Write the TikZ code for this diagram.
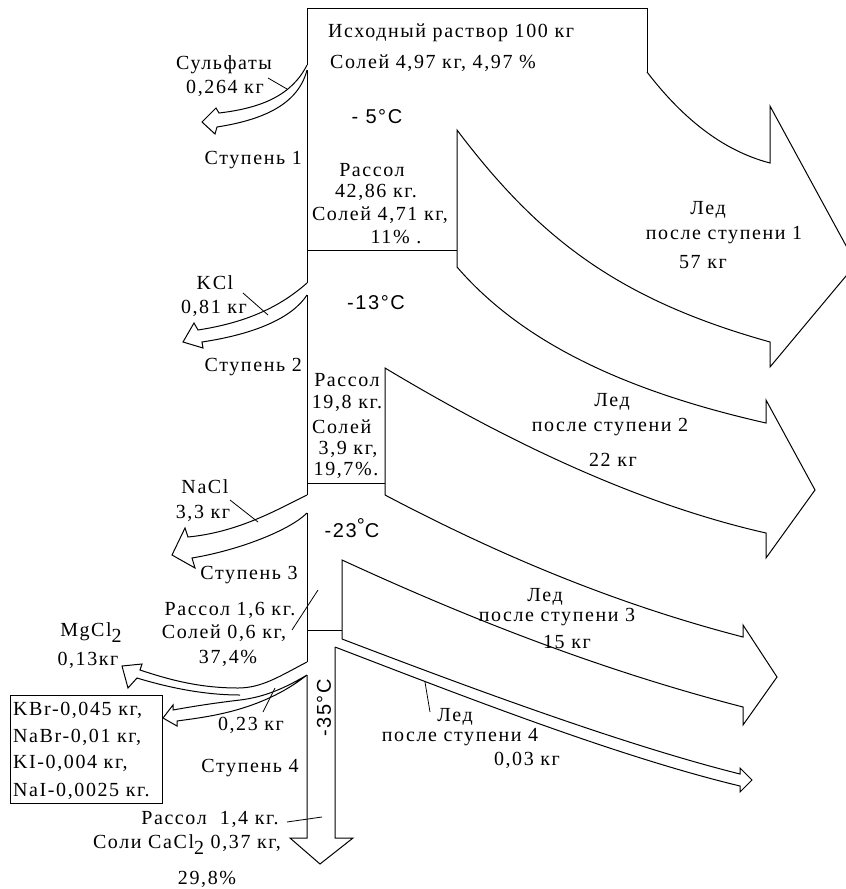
\documentclass[tikz,border=0pt]{standalone}
\usepackage{fontspec}
\setmainfont{Liberation Serif}[LetterSpace=8]
\newfontfamily\sansf{Liberation Sans}[LetterSpace=8]
\begin{document}
\begin{tikzpicture}[x=1pt,y=-1pt,
  ln/.style={line width=1pt, line join=miter},
  lead/.style={line width=0.8pt},
  lbl/.style={inner sep=0pt, font=\fontsize{20}{22}\selectfont},
  tmp/.style={inner sep=0pt, font=\sansf\fontsize{20}{22}\selectfont}]
\useasboundingbox (0,0) rectangle (846,889);
\clip (0,0) rectangle (846,889);

% ---- main column and top block
\draw[ln] (307,65) -- (307,8) -- (647,8) -- (647,72);
\draw[ln] (307,70) -- (307,283);
\draw[ln] (307,295) -- (307,495);
\draw[ln] (307,513) -- (307,662);
\draw[ln] (307,675) -- (307,838) -- (290,838) -- (320,864) -- (353,838) -- (335,838) -- (335,647);

% ---- ice arrow 1
\draw[ln] (647,72) .. controls (680,115) and (720,150) .. (770,163) -- (770,106) -- (856,264) -- (770,367) -- (770,342)
  .. controls (620,300) and (540,240) .. (457,130) -- (457,267);
\draw[ln] (307,250) -- (457,250);
% ---- ice arrow 2
\draw[ln] (457,267) .. controls (520,340) and (620,390) .. (766,423) -- (766,400) -- (815,490) -- (766,558) -- (766,533)
  .. controls (620,500) and (480,425) .. (385,368) -- (385,495);
\draw[ln] (307,483) -- (385,483);
% ---- ice arrow 3
\draw[ln] (385,495) .. controls (480,545) and (600,600) .. (743,637) -- (743,625) -- (777,677) -- (743,725) -- (743,707)
  .. controls (580,665) and (440,605) .. (342,560) -- (342,639);
\draw[ln] (307,630) -- (342,630);
% ---- ice arrow 4 (thin)
\draw[ln] (342,639) .. controls (460,684) and (620,744) .. (740,774) -- (740,768) -- (752,780) -- (740,792) -- (740,786)
  .. controls (615,756) and (455,693) .. (335,647);

% ---- salt arrows (left)
\draw[ln] (307,65) .. controls (292,95) and (262,108) .. (219,113) -- (216,108) -- (202,122) -- (215,134) -- (217,127)
  .. controls (262,120) and (298,105) .. (307,70);
\draw[ln] (307,283) .. controls (282,305) and (250,322) .. (198,330) -- (194,323) -- (183,342) -- (203,348) -- (202,342)
  .. controls (255,334) and (292,318) .. (307,295);
\draw[ln] (307,495) .. controls (280,508) and (240,532) .. (188,537) -- (185,528) -- (172,555) -- (195,568) -- (192,558)
  .. controls (240,550) and (290,530) .. (307,513);
% MgCl2
\draw[ln] (307,662) .. controls (280,676) and (262,688) .. (238,688) .. controls (200,688) and (170,680) .. (140,670)
  -- (142,664) -- (122,666) -- (128,688) -- (137,678) .. controls (170,688) and (205,695) .. (240,695);
% 0,23
\draw[ln] (307,675) .. controls (285,688) and (265,697) .. (240,700) .. controls (215,703) and (195,706) .. (173,710)
  -- (173,705) -- (163,718) -- (177,726) -- (177,721) .. controls (205,717) and (260,712) .. (307,675);

% ---- leader lines
\coordinate (l1a) at (268,78); \coordinate (l1b) at (287,89);
\coordinate (l2a) at (243,293); \coordinate (l2b) at (268,315);
\coordinate (l3a) at (230,500); \coordinate (l3b) at (258,522);
\coordinate (l4a) at (292,630); \coordinate (l4b) at (318,590);
\coordinate (l5a) at (263,712); \coordinate (l5b) at (275,688);
\coordinate (l6a) at (287,822); \coordinate (l6b) at (322,817);
\coordinate (l7a) at (430,712); \coordinate (l7b) at (425,682);
\draw[lead] (l1a) -- (l1b);
\draw[lead] (l2a) -- (l2b);
\draw[lead] (l3a) -- (l3b);
\draw[lead] (l4a) -- (l4b);
\draw[lead] (l5a) -- (l5b);
\draw[lead] (l6a) -- (l6b);
\draw[lead] (l7a) -- (l7b);

% ---- texts
\node[lbl, anchor=west] (src1) at (328,33) {Исходный раствор 100 кг};
\node[lbl, anchor=west] (src2) at (330,63) {Солей 4,97 кг, 4,97 \%};
\node[tmp] (t5) at (377,117) {- 5°C};
\node[lbl] (sulf1) at (224,65) {Сульфаты};
\node[lbl] (sulf2) at (225,88) {0,264 кг};
\node[lbl, anchor=east] (st1) at (302,160) {Ступень 1};
\node[lbl] (b1a) at (372,170) {Рассол};
\node[lbl] (b1b) at (376,192) {42,86 кг.};
\node[lbl] (b1c) at (380,215) {Солей 4,71 кг,};
\node[lbl] (b1d) at (396,237) {11\% .};
\node[lbl] (i1a) at (708,210) {Лед};
\node[lbl] (i1b) at (724,235) {после ступени 1};
\node[lbl] (i1c) at (703,262) {57 кг};

\node[lbl] (kcl1) at (215,283) {KCl};
\node[lbl] (kcl2) at (214,308) {0,81 кг};
\node[tmp] (t13) at (376,303) {-13°C};
\node[lbl, anchor=east] (st2) at (302,367) {Ступень 2};
\node[lbl] (b2a) at (347,380) {Рассол};
\node[lbl] (b2b) at (347,403) {19,8 кг.};
\node[lbl, anchor=west] (b2c) at (312,427) {Солей};
\node[lbl] (b2d) at (348,449) {3,9 кг,};
\node[lbl] (b2e) at (346,470) {19,7\%.};
\node[lbl] (i2a) at (612,402) {Лед};
\node[lbl] (i2b) at (610,427) {после ступени 2};
\node[lbl] (i2c) at (613,460) {22 кг};

\node[lbl] (nacl1) at (205,487) {NaCl};
\node[lbl] (nacl2) at (203,513) {3,3 кг};
\node[tmp] (t23) at (352,528) {-23\raisebox{0.25em}{°}C};
\node[lbl] (st3) at (249,575) {Ступень 3};
\node[lbl] (b3a) at (230,610) {Рассол 1,6 кг.};
\node[lbl] (b3b) at (224,633) {Солей 0,6 кг,};
\node[lbl] (b3c) at (228,658) {37,4\%};
\node[lbl] (mg1) at (91,633) {MgCl\raisebox{-0.3em}{2}};
\node[lbl] (mg2) at (88,660) {0,13кг};
\node[lbl] (i3a) at (545,597) {Лед};
\node[lbl] (i3b) at (557,617) {после ступени 3};
\node[lbl] (i3c) at (567,642) {15 кг};

\node[tmp, rotate=90] (t35) at (324,708) {-35°C};
\node[draw, line width=1pt, inner sep=0pt, minimum width=152pt, minimum height=108pt, anchor=north west] (box) at (10,695) {};
\node[lbl, anchor=west] (bx1) at (13,710) {KBr-0,045 кг,};
\node[lbl, anchor=west] (bx2) at (13,737) {NaBr-0,01 кг,};
\node[lbl, anchor=west] (bx3) at (13,763) {KI-0,004 кг,};
\node[lbl, anchor=west] (bx4) at (13,791) {NaI-0,0025 кг.};
\node[lbl] (w23) at (251,725) {0,23 кг};
\node[lbl] (st4) at (250,768) {Ступень 4};
\node[lbl] (i4a) at (455,717) {Лед};
\node[lbl] (i4b) at (460,737) {после ступени 4};
\node[lbl] (i4c) at (527,760) {0,03 кг};
\node[lbl] (b4a) at (210,819) {Рассол\ \ 1,4 кг.};
\node[lbl] (b4b) at (187,845) {Соли CaCl\raisebox{-0.3em}{2} 0,37 кг,};
\node[lbl] (b4c) at (207,879) {29,8\%};
\end{tikzpicture}
\end{document}
